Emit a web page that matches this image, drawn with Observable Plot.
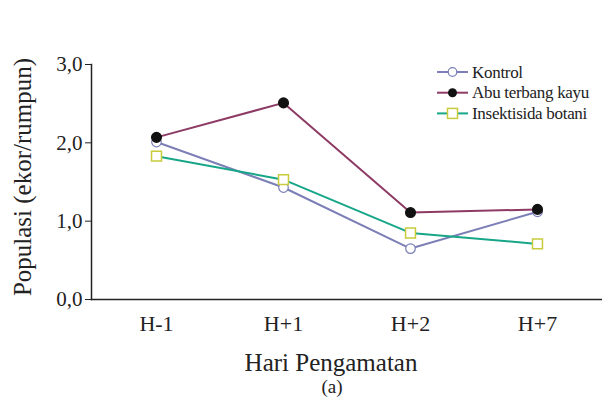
<!DOCTYPE html>
<html>
<head>
<meta charset="utf-8">
<script src="https://cdn.jsdelivr.net/npm/d3@7"></script>
<script src="https://cdn.jsdelivr.net/npm/@observablehq/plot@0.6"></script>
<style>
  html, body { margin: 0; padding: 0; background: #fff; }
  #wrap { position: relative; width: 602px; height: 405px; }
</style>
</head>
<body>
<div id="wrap"></div>
<script>
const categories = ["H-1", "H+1", "H+2", "H+7"];
const kontrol = [2.01, 1.43, 0.65, 1.12];
const abu = [2.07, 2.51, 1.11, 1.15];
const insektisida = [1.83, 1.53, 0.85, 0.71];
const yTicks = [0, 1, 2, 3];
const seriesNames = ["Kontrol", "Abu terbang kayu", "Insektisida botani"];

const toRows = (vals) => categories.map((c, i) => ({hari: c, v: vals[i]}));
const kRows = toRows(kontrol), aRows = toRows(abu), iRows = toRows(insektisida);

const cK = "#7b7fb6", cA = "#8d3b64", cI = "#17a688", cSq = "#c8cc3c";
const serif = "'Liberation Serif', 'Times New Roman', serif";

const plot = Plot.plot({
  width: 602,
  height: 405,
  marginTop: 64,
  marginBottom: 106,
  marginLeft: 91,
  marginRight: 0,
  style: {fontFamily: serif, fontSize: "20px", color: "#222", background: "#fff"},
  x: {type: "point", domain: categories, padding: 0.5, label: null},
  y: {domain: [0, 3], label: null},
  marks: [
    Plot.axisY({ticks: yTicks, tickFormat: d => d3.format(".1f")(d).replace(".", ","), tickSize: 6, tickPadding: 3,
      fontSize: 21, fontFamily: serif, label: null}),
    Plot.axisX({tickSize: 0, tickPadding: 16, fontSize: 22, fontFamily: serif, label: null}),
    Plot.frame({anchor: "left", stroke: "#222", strokeWidth: 1.5}),
    Plot.frame({anchor: "bottom", stroke: "#222", strokeWidth: 1.5}),
    Plot.text(["Populasi (ekor/rumpun)"], {frameAnchor: "left", dx: -69, dy: -5, rotate: -90, textAnchor: "middle", fontSize: 25, fontFamily: serif, fill: "#222", lineAnchor: "middle"}),
    Plot.text(["Hari Pengamatan"], {frameAnchor: "bottom", dx: -16, dy: 63, fontSize: 25, fontFamily: serif, fill: "#222", lineAnchor: "middle"}),
    Plot.text(["(a)"], {frameAnchor: "bottom", dx: -15, dy: 87, fontSize: 19, fontFamily: serif, fill: "#222", lineAnchor: "middle"}),
    Plot.line(kRows, {x: "hari", y: "v", stroke: cK, strokeWidth: 2}),
    Plot.dot(kRows, {x: "hari", y: "v", r: 4.8, fill: "#fff", stroke: cK, strokeWidth: 1.2}),
    Plot.line(iRows, {x: "hari", y: "v", stroke: cI, strokeWidth: 2}),
    Plot.dot(iRows, {x: "hari", y: "v", symbol: "square", r: 5.6, fill: "#fff", stroke: cSq, strokeWidth: 1.5}),
    Plot.line(aRows, {x: "hari", y: "v", stroke: cA, strokeWidth: 2}),
    Plot.dot(aRows, {x: "hari", y: "v", r: 4.8, fill: "#111", stroke: "#111"})
  ]
});
const wrap = document.getElementById("wrap");
wrap.appendChild(plot);

// legend drawn into the same SVG
const specs = [
  {name: seriesNames[0], line: cK, kind: "open"},
  {name: seriesNames[1], line: cA, kind: "filled"},
  {name: seriesNames[2], line: cI, kind: "square"}
];
const lg = d3.select(plot).append("g").attr("transform", "translate(437,72)").attr("text-anchor", "start");
specs.forEach((s, i) => {
  const g = lg.append("g").attr("transform", `translate(0,${i * 20.7})`);
  g.append("line").attr("x1", 0).attr("x2", 31).attr("y1", 0).attr("y2", 0).attr("stroke", s.line).attr("stroke-width", 2);
  if (s.kind === "open") g.append("circle").attr("cx", 15.5).attr("cy", 0).attr("r", 4.3).attr("fill", "#fff").attr("stroke", cK).attr("stroke-width", 1.2);
  if (s.kind === "filled") g.append("circle").attr("cx", 15.5).attr("cy", 0).attr("r", 4.5).attr("fill", "#111");
  if (s.kind === "square") g.append("rect").attr("x", 10.5).attr("y", -5).attr("width", 10).attr("height", 10).attr("fill", "#fff").attr("stroke", cSq).attr("stroke-width", 1.5);
  g.append("text").attr("x", 35).attr("y", 0).attr("dy", "0.33em").attr("text-anchor", "start").attr("font-family", serif).attr("font-size", 17)
    .attr("letter-spacing", "-0.3").attr("fill", "#222").text(s.name);
});
</script>
</body>
</html>
